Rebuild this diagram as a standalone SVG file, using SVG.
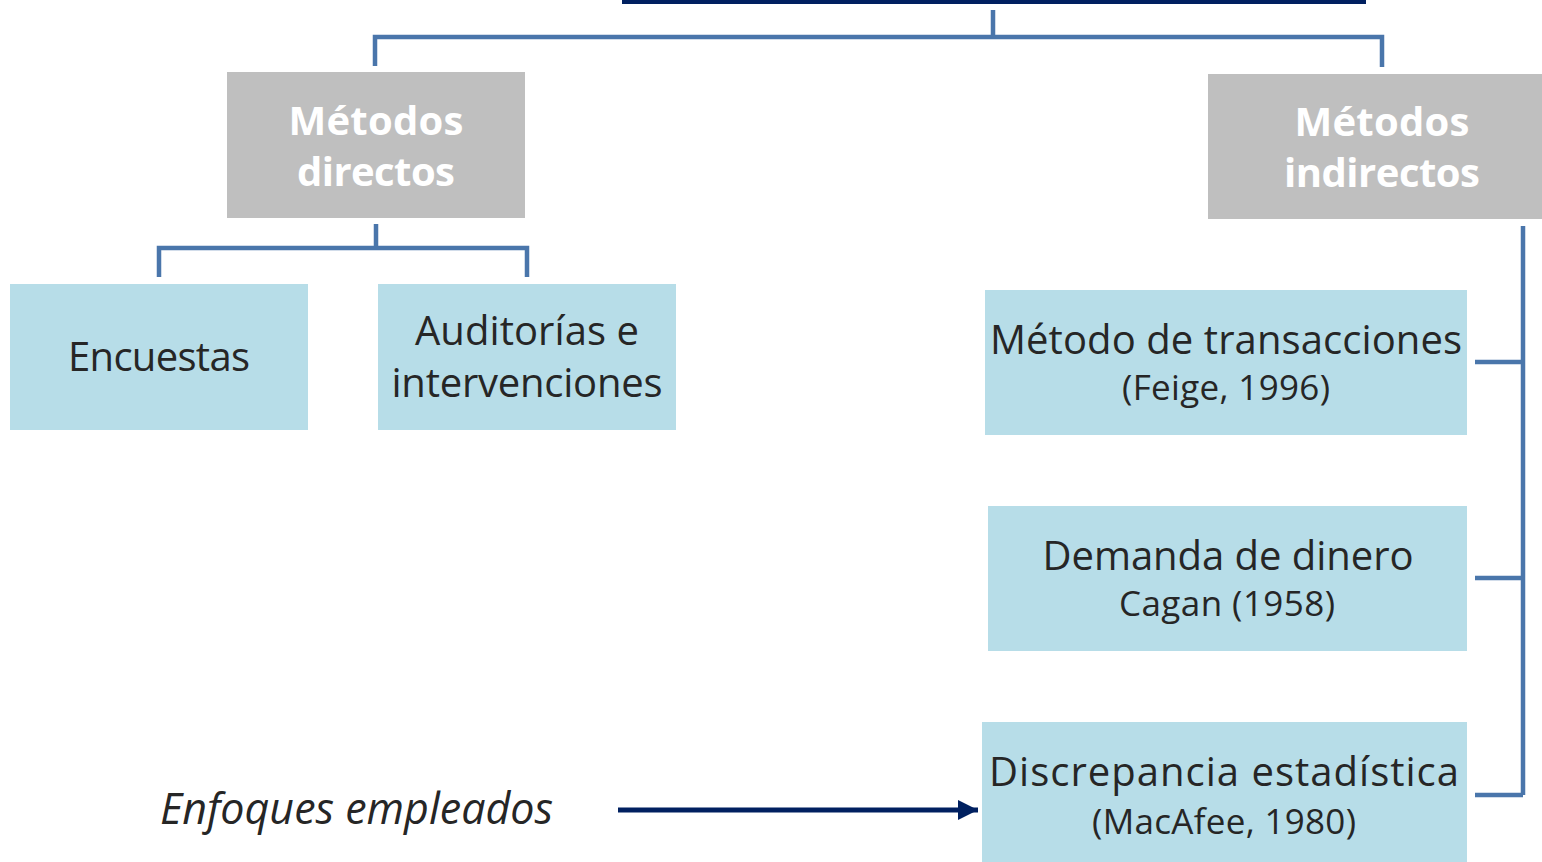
<svg xmlns="http://www.w3.org/2000/svg" width="1542" height="862" viewBox="0 0 1542 862">
<defs>
<style>
.gray{fill:#bfbfbf}
.blue{fill:#b7dde8}
.hd{font-family:"Open Sans","Liberation Sans",sans-serif;font-weight:bold;font-size:40px;fill:#ffffff;text-anchor:middle}
.t{font-family:"Open Sans","Liberation Sans",sans-serif;font-size:40px;fill:#262626;text-anchor:middle}
.s{font-family:"Open Sans","Liberation Sans",sans-serif;font-size:35px;fill:#262626;text-anchor:middle}
.c{fill:none;stroke:#4a76ab;stroke-width:4.5}
</style>
<marker id="ah" markerWidth="20" markerHeight="20" refX="20" refY="10" orient="auto" markerUnits="userSpaceOnUse">
<path d="M0,0 L20,10 L0,20 z" fill="#002060"/>
</marker>
</defs>
<rect x="622" y="0" width="744" height="4" fill="#002060"/>
<g id="connectors">
<path class="c" d="M993,10 V37 M375,66 V37 H1382 V67"/>
<path class="c" d="M376,224 V248 M159,277 V248 H527 V277"/>
<path class="c" d="M1523,226 V795 M1475,362 H1523 M1475,578 H1523 M1475,795 H1523"/>
<line x1="618" y1="810" x2="978" y2="810" stroke="#002060" stroke-width="5" marker-end="url(#ah)"/>
</g>
<g id="directos">
<rect class="gray" x="227" y="72" width="298" height="146"/>
<text class="hd" x="376" y="135" textLength="175">Métodos</text>
<text class="hd" x="376" y="186" textLength="158">directos</text>
</g>
<g id="indirectos">
<rect class="gray" x="1208" y="74" width="334" height="145"/>
<text class="hd" x="1382" y="136" textLength="175">Métodos</text>
<text class="hd" x="1382" y="187" textLength="196">indirectos</text>
</g>
<g id="encuestas">
<rect class="blue" x="10" y="284" width="298" height="146"/>
<text class="t" x="159" y="371" textLength="182">Encuestas</text>
</g>
<g id="auditorias">
<rect class="blue" x="378" y="284" width="298" height="146"/>
<text class="t" x="527" y="345" textLength="224">Auditorías e</text>
<text class="t" x="527" y="397" textLength="271">intervenciones</text>
</g>
<g id="transacciones">
<rect class="blue" x="985" y="290" width="482" height="145"/>
<text class="t" x="1226" y="354" textLength="472">Método de transacciones</text>
<text class="s" x="1226" y="400" textLength="208">(Feige, 1996)</text>
</g>
<g id="demanda">
<rect class="blue" x="988" y="506" width="479" height="145"/>
<text class="t" x="1228" y="570" textLength="371">Demanda de dinero</text>
<text class="s" x="1227" y="616" textLength="216">Cagan (1958)</text>
</g>
<g id="discrepancia">
<rect class="blue" x="982" y="722" width="485" height="140"/>
<text class="t" x="1224" y="786" textLength="470">Discrepancia estadística</text>
<text class="s" x="1224" y="834" textLength="264">(MacAfee, 1980)</text>
</g>
<g id="enfoques">
<text x="160" y="824" font-family="'Open Sans','Liberation Sans',sans-serif" font-style="italic" font-size="43" fill="#262626" textLength="393">Enfoques empleados</text>
</g>
</svg>
